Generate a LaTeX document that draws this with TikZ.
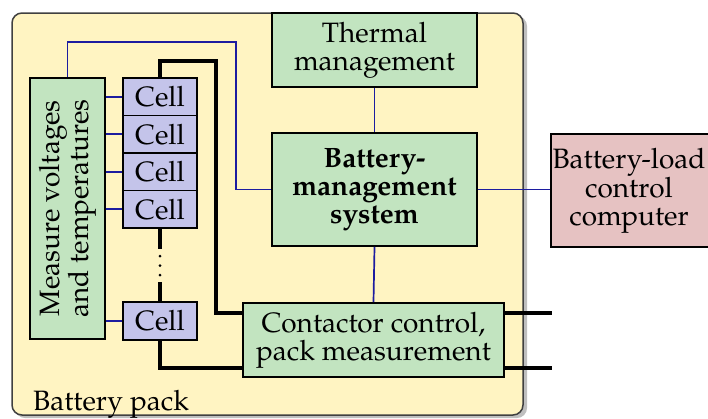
\documentclass[tikz,border=0pt]{standalone}
\usepackage{fontspec}
\setmainfont{TeX Gyre Pagella}
\definecolor{packfill}{HTML}{FFF4C2}
\definecolor{greenfill}{HTML}{C2E4C0}
\definecolor{cellfill}{HTML}{C4C4EA}
\definecolor{pinkfill}{HTML}{E6C2C2}
\definecolor{sigblue}{HTML}{1C1CA0}
\tikzset{
  box/.style={draw=black, line width=1.8pt, fill=greenfill, align=center, inner sep=0pt},
  cellbox/.style={draw=black, line width=1.8pt, fill=cellfill, minimum width=74pt, minimum height=37.5pt, inner sep=0pt},
  sig/.style={draw=sigblue, line width=1.7pt},
  power/.style={draw=black, line width=3.6pt},
  txt/.style={font=\fontsize{28}{28}\selectfont},
  dot/.style={circle, fill=black, inner sep=0pt, minimum size=3pt}
}
\begin{document}
\begin{tikzpicture}[x=1pt,y=-1pt]
\useasboundingbox (0,0) rectangle (708,418);
% battery pack
\fill[black!25, rounded corners=10pt] (15,16) rectangle (527,418);
\node[draw=black!75, line width=1.5pt, fill=packfill, rounded corners=10pt, minimum width=511pt, minimum height=402pt, inner sep=0pt] (pack) at (267.5,214) {};
\node[txt, anchor=base west, inner sep=0pt] (packlabel) at (33,410) {Battery pack};
% boxes
\node[box, txt, minimum width=205pt, minimum height=74pt] (thermal) at (374.5,50) {Thermal\\management};
\node[box, txt, minimum width=205pt, minimum height=113pt, font=\fontsize{28}{28}\selectfont\bfseries] (bms) at (374.5,189.5) {Battery-\\management\\system};
\node[box, txt, minimum width=261pt, minimum height=74pt] (cont) at (373.5,340) {Contactor control,\\pack measurement};
\node[box, fill=pinkfill, minimum width=167pt, minimum height=113pt] (blc) at (634.5,190.5) {};
\node[txt, align=center, inner sep=0pt] (blctext) at (629,190.5) {Battery-load\\control\\computer};
\node[box, txt, minimum width=75pt, minimum height=261pt] (meas) at (67.5,208.5) {};
\node[txt, rotate=90, align=center, inner sep=0pt] (meastext) at (meas.center) {Measure voltages\\and temperatures};
% cells
\node[cellbox, txt] (c1) at (160,96.75) {Cell};
\node[cellbox, txt] (c2) at (160,134.25) {Cell};
\node[cellbox, txt] (c3) at (160,171.75) {Cell};
\node[cellbox, txt] (c4) at (160,209.25) {Cell};
\node[cellbox, txt] (c5) at (160,321) {Cell};
% coordinates
\coordinate (b1) at (236,42);
\coordinate (k1) at (216,61);
\coordinate (d1) at (160,249);
\coordinate (d2) at (160,282);
\coordinate (cw1) at (243,313);
\coordinate (cw2) at (243,368);
\coordinate (ce1) at (504,313);
\coordinate (ce2) at (504,368);
\coordinate (e1) at (552,313);
\coordinate (e2) at (552,368);
\node[dot] (dot1) at (160,256) {};
\node[dot] (dot2) at (160,265.5) {};
\node[dot] (dot3) at (160,275) {};
% signal lines
\draw[sig] (meas.north) |- (b1) |- (bms.west);
\foreach \c in {c1,c2,c3,c4,c5} { \draw[sig] (\c.west -| meas.east) -- (\c.west); }
\draw[sig] (thermal.south) -- (bms.north);
\draw[sig] (bms.south) -- (cont.north);
\draw[sig] (bms.east) -- (bms.east -| blc.west);
% power lines
\draw[power] (c1.north) |- (k1) |- (cw1);
\draw[power] (c4.south) -- (d1);
\draw[power] (d2) -- (c5.north);
\draw[power] (c5.south) |- (cw2);
\draw[power] (ce1) -- (e1);
\draw[power] (ce2) -- (e2);
\end{tikzpicture}
\end{document}
